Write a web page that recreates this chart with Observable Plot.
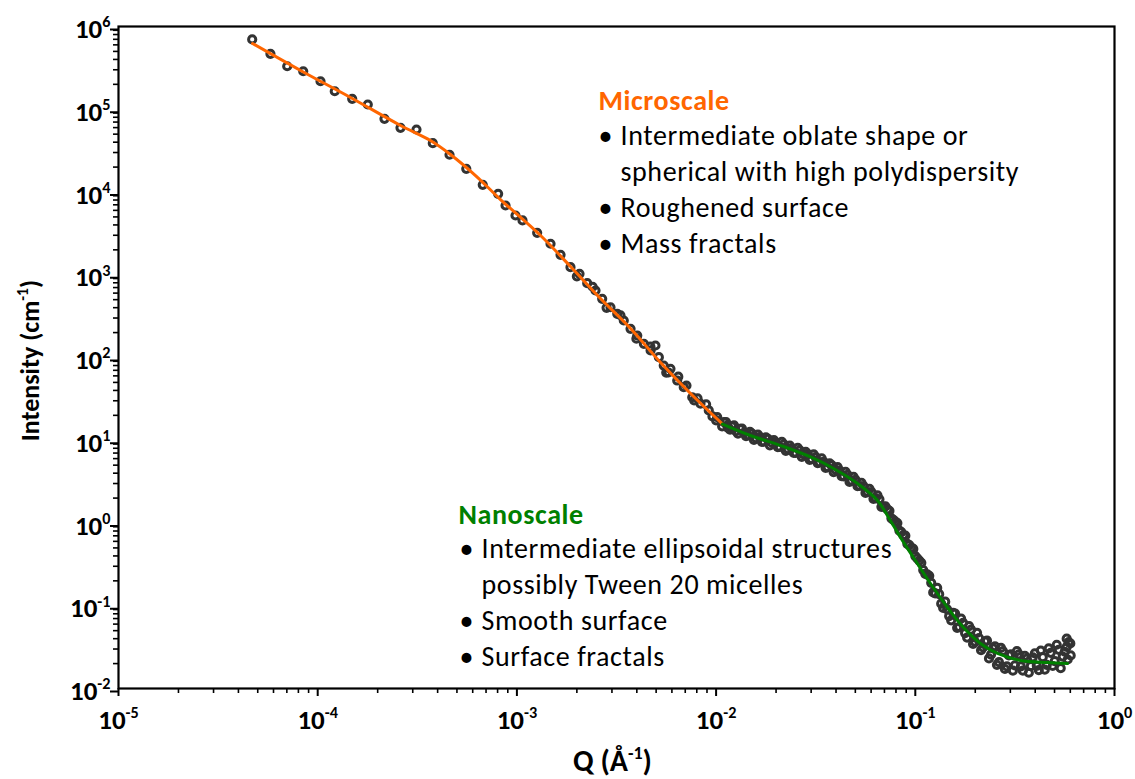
<!DOCTYPE html>
<html><head><meta charset="utf-8">
<script src="https://cdn.jsdelivr.net/npm/d3@7"></script>
<script src="https://cdn.jsdelivr.net/npm/@observablehq/plot@0.6"></script>
<style>
html,body{margin:0;padding:0;background:#fff;}
#chart{width:1135px;height:779px;}
</style>
</head><body><div id="chart"></div>
<script>
// ---- Data ----
// Low-Q (sparse) scattering points
const qLow = [4.69e-5, 5.79e-5, 7.03e-5, 8.46e-5, 1.033e-4, 1.218e-4, 1.490e-4, 1.784e-4, 2.164e-4, 2.604e-4,
  3.133e-4, 3.783e-4, 4.59e-4, 5.57e-4, 6.74e-4, 8.05e-4, 8.77e-4, 9.84e-4, 1.067e-3, 1.264e-3,
  1.475e-3, 1.656e-3, 1.858e-3, 2.062e-3, 2.254e-3, 2.481e-3, 2.68e-3, 2.95e-3, 3.19e-3, 3.44e-3,
  3.72e-3, 4.02e-3, 4.34e-3, 4.69e-3, 4.96e-3, 5.16e-3, 5.46e-3, 5.77e-3, 5.90e-3, 6.38e-3,
  6.88e-3, 7.10e-3, 7.59e-3, 8.07e-3, 8.35e-3, 9.19e-3, 9.59e-3, 1.013e-2, 1.137e-2,
  2.00e-3, 2.40e-3, 2.82e-3, 3.31e-3, 3.98e-3, 4.68e-3, 5.62e-3, 6.46e-3, 7.76e-3, 8.91e-3, 1.00e-2];
const iLow = [6.97e5, 4.68e5, 3.31e5, 2.88e5, 2.18e5, 1.65e5, 1.337e5, 1.141e5, 7.67e4, 5.97e4,
  5.69e4, 3.89e4, 2.82e4, 1.905e4, 1.222e4, 9.51e3, 6.87e3, 5.20e3, 4.53e3, 3.21e3,
  2.37e3, 1.742e3, 1.234e3, 1.026e3, 791, 645, 512, 405, 337, 280,
  222, 184.5, 146.5, 121.6, 139.6, 100.9, 80.0, 65.9, 73.0, 52.7,
  43.8, 45.9, 33.1, 32.0, 27.6, 22.9, 19.4, 19.0, 15.07,
  957, 716, 398, 324, 169, 135, 65.8, 58.6, 30.4, 27.2, 17.4];
// High-Q (dense) scattering points
const qHigh = [0.01096, 0.01148, 0.01202, 0.01259, 0.01318, 0.01380, 0.01445, 0.01514, 0.01585, 0.01660,
  0.01738, 0.01820, 0.01905, 0.01995, 0.02089, 0.02188, 0.02291, 0.02399, 0.02512, 0.02630,
  0.02754, 0.02884, 0.03020, 0.03162, 0.03311, 0.03467, 0.03631, 0.03802, 0.03981, 0.04169,
  0.04365, 0.04571, 0.04786, 0.05012, 0.05248, 0.05495, 0.05754, 0.06026, 0.06310, 0.06607,
  0.06918, 0.07244, 0.07586, 0.07943, 0.08318, 0.08710, 0.09120, 0.09550, 0.1000, 0.1047,
  0.1096, 0.1148, 0.1202, 0.1259, 0.1318, 0.1380, 0.1445, 0.1514, 0.1585, 0.1660,
  0.1738, 0.1820, 0.1905, 0.1995, 0.2089, 0.2188, 0.2291, 0.2399, 0.2512, 0.2630,
  0.2754, 0.2884, 0.3020, 0.3162, 0.3311, 0.3467, 0.3631, 0.3802, 0.3981, 0.4169,
  0.4365, 0.4571, 0.4786, 0.5012, 0.5248, 0.5495, 0.5754, 0.6026];
const iHigh = [16.52, 14.06, 14.76, 12.85, 13.77, 12.30, 11.48, 12.05, 10.59, 10.94,
  9.62, 10.40, 9.35, 9.44, 8.30, 8.95, 7.83, 8.04, 7.03, 7.55,
  6.76, 6.78, 5.90, 6.27, 5.40, 5.47, 4.72, 5.01, 4.39, 4.29,
  3.65, 3.82, 3.25, 3.33, 2.80, 2.79, 2.37, 2.36, 2.00, 1.93,
  1.58, 1.46, 1.14, 1.04, 0.811, 0.713, 0.561, 0.506, 0.398, 0.352,
  0.270, 0.239, 0.189, 0.141, 0.138, 0.0940, 0.0904, 0.0667, 0.0802, 0.0553,
  0.0621, 0.0413, 0.0514, 0.0367, 0.0407, 0.0313, 0.0378, 0.0256, 0.0324, 0.0208,
  0.0284, 0.0185, 0.0259, 0.0190, 0.0259, 0.0164, 0.0230, 0.0186, 0.0266, 0.0167,
  0.0239, 0.0193, 0.0270, 0.0214, 0.0293, 0.0243, 0.0318, 0.0251];
// Second row of the dense band
const qBand = [0.01072, 0.01122, 0.01175, 0.01230, 0.01288, 0.01349, 0.01413, 0.01479, 0.01549, 0.01622,
  0.01698, 0.01778, 0.01862, 0.01950, 0.02042, 0.02138, 0.02239, 0.02344, 0.02455, 0.02570,
  0.02692, 0.02818, 0.02951, 0.03090, 0.03236, 0.03388, 0.03548, 0.03715, 0.03890, 0.04074,
  0.04266, 0.04467, 0.04677, 0.04898, 0.05129, 0.05370, 0.05623, 0.05888, 0.06166, 0.06457,
  0.06761, 0.07079, 0.07413, 0.07762, 0.08128, 0.08511, 0.08913, 0.09333, 0.09772, 0.1023,
  0.1072, 0.1122, 0.1175, 0.1230];
const iBand = [14.72, 16.52, 13.45, 15.10, 12.00, 13.80, 11.22, 12.59, 10.07, 11.67,
  9.57, 10.84, 8.69, 10.07, 8.26, 9.56, 7.46, 8.60, 7.01, 8.08,
  6.30, 7.25, 5.77, 6.75, 5.30, 6.03, 4.63, 5.27, 4.13, 4.75,
  3.69, 4.14, 3.14, 3.61, 2.78, 3.06, 2.31, 2.59, 1.96, 2.16,
  1.57, 1.59, 1.40, 1.09, 0.997, 0.778, 0.702, 0.539, 0.486, 0.374,
  0.330, 0.243, 0.230, 0.145];
// High-Q scattered tail points
const qTail = [0.1288, 0.1349, 0.1413, 0.1479, 0.1549, 0.1622, 0.1698, 0.1778, 0.1862, 0.1950,
  0.2042, 0.2138, 0.2239, 0.2344, 0.2455, 0.2570, 0.2692, 0.2818, 0.2951, 0.3090,
  0.3236, 0.3388, 0.3548, 0.3715, 0.3890, 0.4074, 0.4266, 0.4467, 0.4677, 0.4898,
  0.5129, 0.5370, 0.5623, 0.5888, 0.582, 0.5754, 0.600];
const iTail = [0.164, 0.106, 0.112, 0.0750, 0.0820, 0.0541, 0.0697, 0.0468, 0.0568, 0.0345,
  0.0471, 0.0290, 0.0372, 0.0231, 0.0305, 0.0193, 0.0309, 0.0172, 0.0251, 0.0164,
  0.0283, 0.0185, 0.0248, 0.0155, 0.0238, 0.0188, 0.0288, 0.0169, 0.0305, 0.0187,
  0.0338, 0.0176, 0.0278, 0.0363, 0.0224, 0.040, 0.035];
// Microscale fit (orange)
const qMicroFit = [4.71e-5, 8.20e-5, 1.461e-4, 2.604e-4, 3.68e-4, 4.64e-4, 6.20e-4, 8.27e-4, 1.314e-3, 1.858e-3, 2.628e-3, 3.72e-3, 5.26e-3, 7.44e-3, 1.077e-2];
const iMicroFit = [6.23e5, 2.94e5, 1.387e5, 6.37e4, 4.19e4, 2.84e4, 1.58e4, 8.11e3, 2.98e3, 1.259e3, 516, 224, 87.0, 36.7, 15.7];
// Nanoscale fit (green)
const qNanoFit = [1.077e-2, 1.489e-2, 2.181e-2, 2.978e-2, 3.886e-2, 5.13e-2, 6.46e-2, 7.34e-2, 8.43e-2, 9.79e-2, 0.1192, 0.1451, 0.1746, 0.2125, 0.2587, 0.3374, 0.461, 0.581];
const iNanoFit = [15.71, 11.41, 8.40, 6.28, 4.56, 3.00, 1.871, 1.165, 0.668, 0.383, 0.1858, 0.0953, 0.0546, 0.0350, 0.0265, 0.0218, 0.0206, 0.0200];

// Axes
const xTicks = [1e-5, 1e-4, 1e-3, 1e-2, 1e-1, 1];
const xTickLabels = ["10^-5", "10^-4", "10^-3", "10^-2", "10^-1", "10^0"];
const yTicks = [1e-2, 1e-1, 1, 10, 1e2, 1e3, 1e4, 1e5, 1e6];
const yTickLabels = ["10^-2", "10^-1", "10^0", "10^1", "10^2", "10^3", "10^4", "10^5", "10^6"];
const xTitle = "Q (Å^-1)";
const yTitle = "Intensity (cm^-1)";

// Annotations
const microTitle = "Microscale";
const microLines = ["Intermediate oblate shape or", "spherical with high polydispersity", "Roughened surface", "Mass fractals"];
const microBulleted = [true, false, true, true];
const nanoTitle = "Nanoscale";
const nanoLines = ["Intermediate ellipsoidal structures", "possibly Tween 20 micelles", "Smooth surface", "Surface fractals"];
const nanoBulleted = [true, false, true, true];

// ---- Build ----
const ORANGE = "#FF6600", GREEN = "#008000", PT = "#333333";
const FONT = "Calibri, Carlito, Lato, sans-serif";
const points = [
  ...qLow.map((q, i) => ({q, I: iLow[i]})),
  ...qHigh.map((q, i) => ({q, I: iHigh[i]})),
  ...qBand.map((q, i) => ({q, I: iBand[i]})),
  ...qTail.map((q, i) => ({q, I: iTail[i]}))
];
const microFit = qMicroFit.map((q, i) => ({q, I: iMicroFit[i]}));
const nanoFit = qNanoFit.map((q, i) => ({q, I: iNanoFit[i]}));
const minor = (majors) => majors.slice(0, -1).flatMap(m => [2,3,4,5,6,7,8,9].map(k => k * m));
const xMinor = minor(xTicks), yMinor = minor(yTicks);
const near = (a, b) => Math.abs(Math.log10(a) - Math.log10(b)) < 1e-6;
const xFmt = d => xTickLabels[xTicks.findIndex(t => near(t, d))];
const yFmt = d => yTickLabels[yTicks.findIndex(t => near(t, d))];

const TICK_FS = 27, NOTE_FS = 28, LH = 36 / NOTE_FS;
const note = (opts) => ({fontSize: NOTE_FS, textAnchor: "start", lineAnchor: "bottom", frameAnchor: "top-left", text: d => d, ...opts});

const chart = Plot.plot({
  width: 1135, height: 779,
  marginLeft: 118, marginRight: 21, marginTop: 26, marginBottom: 91,
  x: {type: "log", domain: [1e-5, 1]},
  y: {type: "log", domain: [1e-2, 1e6]},
  style: {fontFamily: FONT, background: "white", color: "black"},
  marks: [
    Plot.axisX({ticks: xMinor, tickSize: 5, strokeWidth: 1.6, tickFormat: () => "", label: null}),
    Plot.axisY({ticks: yMinor, tickSize: 5, strokeWidth: 1.6, tickFormat: () => "", label: null}),
    Plot.axisX({ticks: xTicks, tickSize: 8, tickPadding: 13, strokeWidth: 2, tickFormat: xFmt, fontSize: TICK_FS, fontWeight: "bold", label: null}),
    Plot.axisY({ticks: yTicks, tickSize: 8, tickPadding: 0, strokeWidth: 2, tickFormat: yFmt, fontSize: TICK_FS, fontWeight: "bold", dy: 3, label: null}),
    Plot.frame({stroke: "black", strokeWidth: 2.2}),
    Plot.dot(points, {x: "q", y: "I", r: 3.6, stroke: PT, strokeWidth: 3, fill: "none"}),
    Plot.line(microFit, {x: "q", y: "I", stroke: ORANGE, strokeWidth: 3, curve: "catmull-rom"}),
    Plot.line(nanoFit, {x: "q", y: "I", stroke: GREEN, strokeWidth: 3, curve: "catmull-rom"}),
    // annotations
    Plot.text([microTitle], note({dx: 480, dy: 83.3, fill: ORANGE, fontWeight: "bold"})),
    Plot.text([microBulleted.map(b => b ? "•" : " ").join("\n")], note({dx: 480, dy: 226.5, lineHeight: LH})),
    Plot.text([microLines.join("\n")], note({dx: 502, dy: 226.5, lineHeight: LH})),
    Plot.text([nanoTitle], note({dx: 340, dy: 497.3, fill: GREEN, fontWeight: "bold"})),
    Plot.text([nanoBulleted.map(b => b ? "•" : " ").join("\n")], note({dx: 341, dy: 639.5, lineHeight: LH})),
    Plot.text([nanoLines.join("\n")], note({dx: 363, dy: 639.5, lineHeight: LH})),
    // axis titles
    Plot.text([xTitle], {frameAnchor: "bottom", text: d => d, textAnchor: "middle", dx: -4, dy: 82, lineAnchor: "bottom", fontSize: 30, fontWeight: "bold"}),
    Plot.text([yTitle], {frameAnchor: "left", text: d => d, textAnchor: "middle", rotate: -90, dx: -88, dy: 3, lineAnchor: "middle", fontSize: 26, fontWeight: "bold"})
  ]
});
document.getElementById("chart").appendChild(chart);

// Render "base^exp" strings as real superscripts
function superscript(el, fs) {
  const m = el.textContent.match(/^(.*)\^(-?\d+)(.*)$/);
  if (!m) return;
  const sel = d3.select(el);
  sel.style("font-size", fs + "px").style("font-weight", "bold").text(null);
  sel.append("tspan").text(m[1]);
  sel.append("tspan").style("font-size", (fs * 0.6) + "px").attr("dy", -fs * 0.4).text(m[2]);
  if (m[3]) sel.append("tspan").attr("dy", fs * 0.4).text(m[3]);
}
const noteSet = new Set([microTitle, nanoTitle, microLines.join(""), nanoLines.join("")]);
d3.select(chart).selectAll("text").each(function() {
  const t = this.textContent;
  if (noteSet.has(t)) { d3.select(this).style("letter-spacing", "0.6px"); return; }
  if (!t.includes("^") || this.querySelector("tspan")) return;
  const isTick = this.closest('g[aria-label$="tick label"]');
  superscript(this, isTick ? TICK_FS : (t === xTitle ? 30 : 26));
});
</script>
</body></html>
